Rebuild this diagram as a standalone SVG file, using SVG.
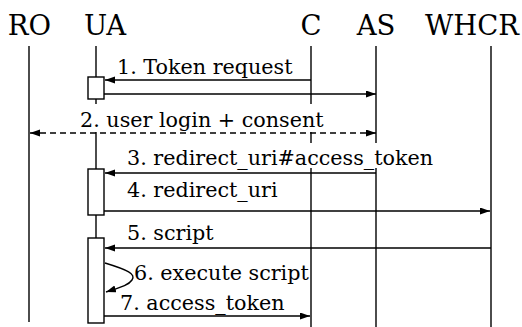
<svg xmlns="http://www.w3.org/2000/svg" width="522" height="327" viewBox="0 0 522 327">
  <style>
    .head { font-family: "DejaVu Serif", "Liberation Serif", serif; font-size: 27.5px; fill: #000; text-anchor: middle; }
    .lbl { font-family: "DejaVu Serif", "Liberation Serif", serif; font-size: 20.7px; fill: #000; }
    .life { stroke: #000; stroke-width: 1.4; fill: none; }
    .act { stroke: #000; stroke-width: 1.4; fill: #fff; }
    .msg { stroke: #000; stroke-width: 1.4; fill: none; marker-end: url(#arrow); }
    .dash { stroke-dasharray: 6 4; }
    .bg { fill: #fff; }
  </style>
  <defs>
    <marker id="arrow" markerUnits="userSpaceOnUse" markerWidth="11" markerHeight="8" refX="10" refY="3.5" orient="auto-start-reverse">
      <path d="M0,0 L10,3.5 L0,7 z" fill="#000"/>
    </marker>
  </defs>
  <rect width="522" height="327" fill="#fff"/>

  <!-- participants -->
  <g id="RO">
    <text class="head" x="29.5" y="35">RO</text>
    <line class="life" x1="29" y1="46" x2="29" y2="322"/>
  </g>
  <g id="UA">
    <text class="head" x="105" y="35">UA</text>
    <line class="life" x1="96" y1="46" x2="96" y2="322"/>
  </g>
  <g id="C">
    <text class="head" x="311" y="35">C</text>
    <line class="life" x1="311" y1="46" x2="311" y2="104"/>
    <line class="life" x1="311" y1="132" x2="311" y2="327"/>
  </g>
  <g id="AS">
    <text class="head" x="376" y="35">AS</text>
    <line class="life" x1="376" y1="46" x2="376" y2="327"/>
  </g>
  <g id="WHCR">
    <text class="head" x="472" y="35">WHCR</text>
    <line class="life" x1="491" y1="46" x2="491" y2="327"/>
  </g>

  <!-- label backgrounds that mask the lifelines -->
  <rect class="bg" x="78" y="104" width="244" height="28"/>
  <rect class="bg" x="125" y="143" width="308" height="25"/>

  <!-- activation bars on UA -->
  <g id="UA-activations">
    <rect class="act" x="88" y="77" width="16" height="22"/>
    <rect class="act" x="88" y="169" width="16" height="46"/>
    <rect class="act" x="88" y="238" width="16" height="85"/>
  </g>

  <!-- messages -->
  <g id="connectors">
    <line class="msg" x1="311" y1="80" x2="105" y2="80"/>
    <line class="msg" x1="104" y1="94" x2="376" y2="94"/>
    <line class="msg dash" x1="376" y1="133" x2="30" y2="133" marker-start="url(#arrow)"/>
    <line class="msg" x1="376" y1="173" x2="105" y2="173"/>
    <line class="msg" x1="104" y1="211" x2="490" y2="211"/>
    <line class="msg" x1="491" y1="248" x2="105" y2="248"/>
    <path class="msg" d="M105,263 C128,270 136,274 132,280 C128,286 118,288 106,292"/>
    <line class="msg" x1="104" y1="316" x2="310" y2="316"/>
  </g>

  <!-- message labels -->
  <g id="labels">
    <text class="lbl" x="117" y="74">1. Token request</text>
    <text class="lbl" x="80" y="127">2. user login + consent</text>
    <text class="lbl" x="127" y="165">3. redirect_uri#access_token</text>
    <text class="lbl" x="127" y="197">4. redirect_uri</text>
    <text class="lbl" x="127" y="240">5. script</text>
    <text class="lbl" x="134" y="280">6. execute script</text>
    <text class="lbl" x="120" y="310">7. access_token</text>
  </g>
</svg>
